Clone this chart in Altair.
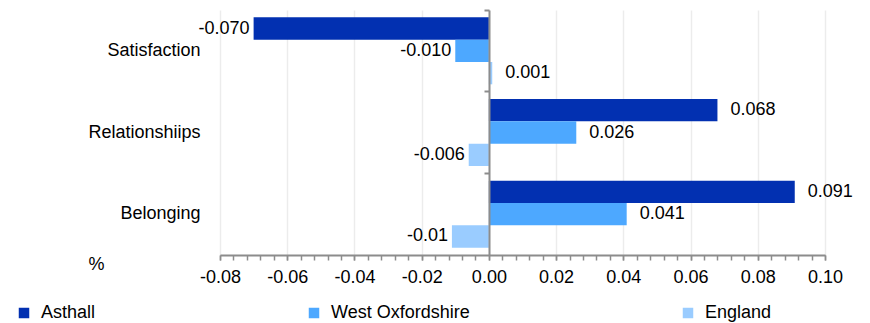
import altair as alt
import pandas as pd

categories = ["Satisfaction", "Relationshiips", "Belonging"]
series = ["Asthall", "West Oxfordshire", "England"]
asthall = [-0.070, 0.068, 0.091]
west_oxfordshire = [-0.010, 0.026, 0.041]
england = [0.001, -0.006, -0.011]
asthall_labels = ["-0.070", "0.068", "0.091"]
west_oxfordshire_labels = ["-0.010", "0.026", "0.041"]
england_labels = ["0.001", "-0.006", "-0.01"]
colors = ["#0230b1", "#4da8ff", "#9accff"]
major_ticks = [-0.08, -0.06, -0.04, -0.02, 0.0, 0.02, 0.04, 0.06, 0.08, 0.10]
minor_ticks = [round(-0.08 + 0.004 * i, 3) for i in range(46)]

rows = []
for s, vals, labs in zip(series, [asthall, west_oxfordshire, england],
                         [asthall_labels, west_oxfordshire_labels, england_labels]):
    for c, v, l in zip(categories, vals, labs):
        rows.append({"category": c, "series": s, "value": v, "label": l})
df = pd.DataFrame(rows)

FONT = "Liberation Sans"
GREY = "#8c8c8c"

xscale = alt.Scale(domain=[-0.08, 0.10], nice=False, zero=False)
yscale = alt.Scale(paddingInner=0, paddingOuter=0)
yoff = alt.YOffset("series:N", sort=series,
                   scale=alt.Scale(paddingInner=0, paddingOuter=0.33))

base = alt.Chart(df)

bars = base.mark_bar().encode(
    x=alt.X("value:Q", scale=xscale,
            axis=alt.Axis(orient="bottom", values=major_ticks, title=None,
                          labelExpr="(datum.value < -0.0001 ? '-' : '') + format(abs(datum.value), '.2f')",
                          labelFontSize=18, labelFont=FONT, labelColor="#000000",
                          labelPadding=8, labelFlush=False,
                          tickSize=5, tickColor=GREY, tickWidth=1.5,
                          domainColor=GREY, domainWidth=2,
                          grid=True, gridColor="#ececec", gridWidth=1.5)),
    y=alt.Y("category:N", sort=categories, scale=yscale,
            axis=alt.Axis(orient="left", title="%", titleAngle=0, titleX=-124, titleY=254,
                          titleAlign="center", titleBaseline="middle",
                          titleFont=FONT, titleFontSize=18, titleFontWeight="normal",
                          titleColor="#000000",
                          labelFont=FONT, labelFontSize=18, labelColor="#000000",
                          labelPadding=20, ticks=False, domain=False, grid=False)),
    yOffset=yoff,
    color=alt.Color("series:N", sort=series,
                    scale=alt.Scale(domain=series, range=colors),
                    legend=alt.Legend(orient="none", legendX=-205, legendY=294,
                                      direction="horizontal", title=None,
                                      symbolType="square", symbolSize=110,
                                      symbolStrokeWidth=0, labelFont=FONT,
                                      labelFontSize=18, labelColor="#000000",
                                      labelOffset=8, columnPadding=209)),
)

pos_text = base.transform_filter("datum.value >= 0").mark_text(
    align="left", baseline="middle", dx=13, font=FONT, fontSize=18, color="#000000"
).encode(
    x=alt.X("value:Q", scale=xscale,
            axis=alt.Axis(orient="bottom", values=minor_ticks, labels=False, title=None,
                          domain=False, grid=False, ticks=True, tickSize=5,
                          tickColor=GREY, tickWidth=1.5)),
    y=alt.Y("category:N", sort=categories, scale=yscale,
            axis=alt.Axis(orient="left", offset=-269, labels=False, title=None,
                          domain=True, domainColor=GREY, domainWidth=2,
                          ticks=True, tickSize=5, tickColor=GREY, tickWidth=2,
                          bandPosition=0, grid=False, zindex=1)),
    yOffset=yoff,
    text="label:N",
)

neg_text = base.transform_filter("datum.value < 0").mark_text(
    align="right", baseline="middle", dx=-4, font=FONT, fontSize=18, color="#000000"
).encode(
    x=alt.X("value:Q", scale=xscale, axis=None),
    y=alt.Y("category:N", sort=categories, scale=yscale, axis=None),
    yOffset=yoff,
    text="label:N",
)

chart = alt.layer(bars, pos_text, neg_text).resolve_axis(
    x="independent", y="independent"
).properties(
    width=605, height=245,
    autosize=alt.AutoSizeParams(type="none"),
    padding={"left": 212, "top": 2, "right": 30, "bottom": 68},
).configure_view(stroke=None)

chart.save("out.html", embed_options={"renderer": "svg", "actions": False})
